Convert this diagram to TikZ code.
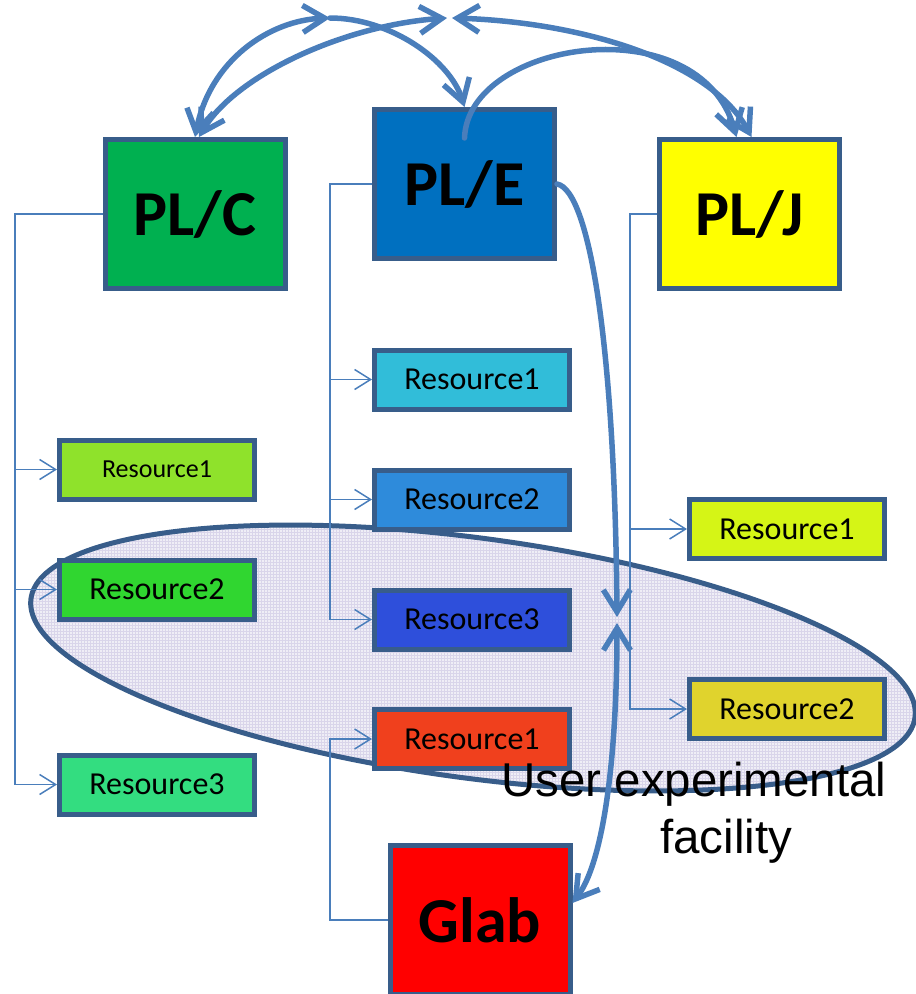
\documentclass[tikz,border=0pt]{standalone}
\usepackage{fontspec}
\setmainfont{Carlito}
\newfontfamily\arialf{Liberation Sans}
\usetikzlibrary{arrows.meta,patterns}
\definecolor{bord}{HTML}{385D8A}
\definecolor{arrc}{HTML}{4A7EBB}
\definecolor{ellf}{HTML}{EFEEF6}
\definecolor{ellp}{HTML}{D9D5EA}
\definecolor{cplc}{HTML}{00B050}
\definecolor{cple}{HTML}{0070C0}
\definecolor{cplj}{HTML}{FFFF00}
\definecolor{cglab}{HTML}{FF0000}
\definecolor{clra}{HTML}{8FE22B}
\definecolor{clrb}{HTML}{30D630}
\definecolor{clrc}{HTML}{33DD80}
\definecolor{cmra}{HTML}{31BDD9}
\definecolor{cmrb}{HTML}{2E8BDB}
\definecolor{cmrc}{HTML}{2E4FDB}
\definecolor{cgra}{HTML}{F0401D}
\definecolor{crra}{HTML}{D5F516}
\definecolor{crrb}{HTML}{E0D32D}
\tikzset{
  bigtip/.tip={Straight Barb[length=22pt,width=27pt]},
  smalltip/.tip={Straight Barb[length=16pt,width=20pt]},
}
\begin{document}
\begin{tikzpicture}[x=1pt,y=-1pt,
  bigbox/.style={draw=bord, line width=5pt, minimum width=180pt, minimum height=149pt, inner sep=0pt, text=black, font=\fontsize{64}{70}\selectfont\bfseries},
  resbox/.style={draw=bord, line width=5pt, minimum width=195pt, minimum height=59pt, inner sep=0pt, text=black, font=\fontsize{32}{36}\selectfont},
  conn/.style={draw=arrc, line width=1.5pt},
  conna/.style={conn, -{smalltip}},
  bigarr/.style={draw=arrc, line width=5.5pt, line cap=round},
  captext/.style={inner sep=0pt, text=black, font=\arialf\fontsize{47.5}{57}\selectfont},
]
\useasboundingbox (0,0) rectangle (916,994);

% ellipse (user experimental facility)
\fill[ellf, rotate around={-7.65:(473,658)}] (473,658) ellipse [x radius=446pt, y radius=120pt];
\fill[pattern=grid, pattern color=ellp, rotate around={-7.65:(473,658)}] (473,658) ellipse [x radius=446pt, y radius=120pt];
\draw[bord, line width=5pt, rotate around={-7.65:(473,658)}] (473,658) ellipse [x radius=446pt, y radius=120pt];

% boxes
\node[bigbox, fill=cplc] (plc) at (195,214) {PL/C};
\node[bigbox, fill=cple] (ple) at (464.5,184) {PL/E};
\node[bigbox, fill=cplj] (plj) at (749.5,214) {PL/J};
\node[bigbox, fill=cglab] (glab) at (480,920) {Glab};

\node[resbox, fill=clra, font=\fontsize{26}{30}\selectfont] (lr1) at (157,469.5) {Resource1};
\node[resbox, fill=clrb] (lr2) at (157,589.5) {Resource2};
\node[resbox, fill=clrc] (lr3) at (157,784.5) {Resource3};

\node[resbox, fill=cmra] (mr1) at (472,379.5) {Resource1};
\node[resbox, fill=cmrb] (mr2) at (472,499.5) {Resource2};
\node[resbox, fill=cmrc] (mr3) at (472,619.5) {Resource3};
\node[resbox, fill=cgra] (gr1) at (472,739) {Resource1};

\node[resbox, fill=crra] (rr1) at (787,529) {Resource1};
\node[resbox, fill=crrb] (rr2) at (787,709) {Resource2};

% thin tree connectors
\coordinate (tl) at (15,0);
\coordinate (tm) at (330,0);
\coordinate (tr) at (630,0);

\draw[conna] (plc.west) -- (plc.west -| tl) |- (lr3.west);
\draw[conna] (lr1.west -| tl) -- (lr1.west);
\draw[conna] (lr2.west -| tl) -- (lr2.west);

\draw[conna] (ple.west) -- (ple.west -| tm) |- (mr3.west);
\draw[conna] (mr1.west -| tm) -- (mr1.west);
\draw[conna] (mr2.west -| tm) -- (mr2.west);

\draw[conna] (plj.west) -- (plj.west -| tr) |- (rr2.west);
\draw[conna] (rr1.west -| tr) -- (rr1.west);

\draw[conna] (glab.west) -- (glab.west -| tm) |- (gr1.west);

% thick curved arrows
\coordinate (p1) at (330,18);
\coordinate (p2) at (447,18);
\coordinate (p3) at (452,18);
\coordinate (m1) at (617,617);
\coordinate (m2) at (617,623);

\draw[bigarr, {bigtip}-{bigtip}] (plc.north) .. controls (210,60) and (270,20) .. (p1);
\draw[bigarr, {bigtip}-{bigtip}] ([xshift=4pt]plc.north) .. controls (235,75) and (345,25) .. (p2);
\draw[bigarr, -{bigtip}] (p1) .. controls (390,18) and (450,60) .. (ple.north);
\draw[bigarr, {bigtip}-{bigtip}] (p3) .. controls (580,22) and (710,60) .. ([xshift=2pt]plj.north);
\draw[bigarr, -{bigtip}] ([yshift=46pt]ple.center) .. controls (468,40) and (700,5) .. ([xshift=-13pt]plj.north);
\draw[bigarr, -{bigtip}] (ple.east) .. controls (590,190) and (615,350) .. (m1);
\draw[bigarr, {bigtip}-{bigtip}] (m2) .. controls (617,750) and (605,860) .. ([yshift=17pt]glab.east);

% caption
\node[captext, anchor=base west] (cap1) at (501,796) {User experimental};
\node[captext, anchor=base west] (cap2) at (660,853) {facility};
\end{tikzpicture}
\end{document}
